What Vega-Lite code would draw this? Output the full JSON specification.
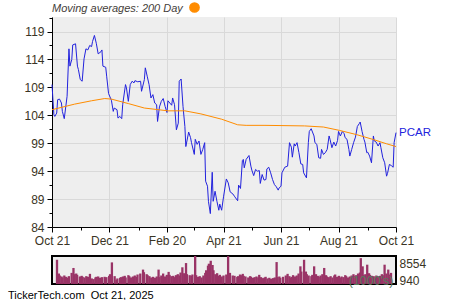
{
"$schema": "https://vega.github.io/schema/vega-lite/v6.json",
"background": "white",
"padding": {"left": 7, "top": 2, "right": 2, "bottom": 0},
"spacing": 9,
"config": {"font": "Liberation Sans", "view": {"stroke": null}},
"datasets": {
"px": [
{"date":"2024-10-21","price":109.5,"vol":7400},{"date":"2024-10-23","price":104.1,"vol":3200},{"date":"2024-10-24","price":103.8,"vol":2600},{"date":"2024-10-26","price":104.4,"vol":2300},{"date":"2024-10-27","price":106.8,"vol":2000},{"date":"2024-10-29","price":106.9,"vol":2600},{"date":"2024-10-31","price":106.2,"vol":2200},{"date":"2024-11-01","price":104.7,"vol":1900},{"date":"2024-11-03","price":103.4,"vol":2400},{"date":"2024-11-06","price":107.4,"vol":3400},
{"date":"2024-11-08","price":115.9,"vol":4900},{"date":"2024-11-09","price":112.8,"vol":3000},{"date":"2024-11-11","price":114.0,"vol":3200},{"date":"2024-11-12","price":116.6,"vol":2800},{"date":"2024-11-15","price":116.8,"vol":2300},{"date":"2024-11-17","price":112.8,"vol":2500},{"date":"2024-11-18","price":112.2,"vol":2200},{"date":"2024-11-20","price":110.4,"vol":2000},{"date":"2024-11-22","price":110.1,"vol":2400},{"date":"2024-11-24","price":114.1,"vol":2200},
{"date":"2024-11-26","price":115.9,"vol":3100},{"date":"2024-11-28","price":115.7,"vol":1700},{"date":"2024-11-30","price":116.5,"vol":1500},{"date":"2024-12-02","price":116.3,"vol":2000},{"date":"2024-12-03","price":117.2,"vol":2200},{"date":"2024-12-05","price":118.3,"vol":2300},{"date":"2024-12-07","price":116.9,"vol":1900},{"date":"2024-12-09","price":115.0,"vol":2100},{"date":"2024-12-12","price":115.4,"vol":2200},{"date":"2024-12-13","price":115.7,"vol":1800},
{"date":"2024-12-14","price":112.8,"vol":2100},{"date":"2024-12-17","price":112.6,"vol":2500},{"date":"2024-12-18","price":111.0,"vol":3000},{"date":"2024-12-20","price":107.9,"vol":6600},{"date":"2024-12-23","price":106.7,"vol":2400},{"date":"2024-12-25","price":104.7,"vol":1300},{"date":"2024-12-26","price":105.3,"vol":1700},{"date":"2024-12-29","price":105.0,"vol":1900},{"date":"2024-12-30","price":103.5,"vol":2100},{"date":"2025-01-01","price":103.8,"vol":2300},
{"date":"2025-01-03","price":103.4,"vol":2500},{"date":"2025-01-04","price":105.9,"vol":2000},{"date":"2025-01-07","price":109.5,"vol":2700},{"date":"2025-01-08","price":108.9,"vol":2400},{"date":"2025-01-10","price":106.5,"vol":2000},{"date":"2025-01-12","price":109.5,"vol":2300},{"date":"2025-01-14","price":110.1,"vol":2600},{"date":"2025-01-16","price":109.8,"vol":2200},{"date":"2025-01-17","price":110.2,"vol":2900},{"date":"2025-01-20","price":110.0,"vol":3200},
{"date":"2025-01-23","price":110.1,"vol":4400},{"date":"2025-01-24","price":108.3,"vol":3600},{"date":"2025-01-27","price":110.4,"vol":3000},{"date":"2025-01-28","price":112.5,"vol":2700},{"date":"2025-01-30","price":111.0,"vol":2400},{"date":"2025-02-01","price":109.5,"vol":2000},{"date":"2025-02-03","price":107.1,"vol":2200},{"date":"2025-02-05","price":107.7,"vol":1900},{"date":"2025-02-07","price":106.2,"vol":2300},{"date":"2025-02-09","price":105.9,"vol":4400},
{"date":"2025-02-10","price":102.9,"vol":2100},{"date":"2025-02-12","price":105.5,"vol":2600},{"date":"2025-02-14","price":106.5,"vol":3200},{"date":"2025-02-16","price":107.0,"vol":2300},{"date":"2025-02-18","price":105.6,"vol":2800},{"date":"2025-02-20","price":104.5,"vol":3700},{"date":"2025-02-21","price":106.6,"vol":2800},{"date":"2025-02-23","price":106.2,"vol":2400},{"date":"2025-02-25","price":105.8,"vol":2500},{"date":"2025-02-26","price":107.1,"vol":2100},
{"date":"2025-02-28","price":105.9,"vol":2700},{"date":"2025-03-02","price":101.4,"vol":3000},{"date":"2025-03-04","price":102.6,"vol":2600},{"date":"2025-03-05","price":110.1,"vol":3500},{"date":"2025-03-07","price":110.5,"vol":5100},{"date":"2025-03-09","price":105.6,"vol":3300},{"date":"2025-03-11","price":102.0,"vol":6400},{"date":"2025-03-12","price":98.4,"vol":3000},{"date":"2025-03-15","price":101.0,"vol":2700},{"date":"2025-03-17","price":100.0,"vol":2500},
{"date":"2025-03-18","price":99.1,"vol":2900},{"date":"2025-03-21","price":97.0,"vol":8554},{"date":"2025-03-22","price":99.7,"vol":2700},{"date":"2025-03-24","price":98.8,"vol":2200},{"date":"2025-03-26","price":99.4,"vol":2400},{"date":"2025-03-28","price":97.0,"vol":2000},{"date":"2025-03-30","price":97.9,"vol":2600},{"date":"2025-04-01","price":99.1,"vol":3400},{"date":"2025-04-02","price":92.2,"vol":4200},{"date":"2025-04-04","price":91.3,"vol":5600},
{"date":"2025-04-05","price":88.6,"vol":6200},{"date":"2025-04-07","price":86.4,"vol":7100},{"date":"2025-04-09","price":93.8,"vol":5800},{"date":"2025-04-10","price":88.6,"vol":4200},{"date":"2025-04-12","price":90.4,"vol":3000},{"date":"2025-04-14","price":88.6,"vol":3300},{"date":"2025-04-16","price":87.0,"vol":2500},{"date":"2025-04-17","price":88.1,"vol":2800},{"date":"2025-04-19","price":87.0,"vol":2300},{"date":"2025-04-21","price":89.4,"vol":2600},
{"date":"2025-04-24","price":92.6,"vol":2900},{"date":"2025-04-26","price":91.9,"vol":8500},{"date":"2025-04-28","price":90.3,"vol":3400},{"date":"2025-05-01","price":89.9,"vol":2600},{"date":"2025-05-03","price":89.4,"vol":2500},{"date":"2025-05-06","price":88.7,"vol":2200},{"date":"2025-05-07","price":91.5,"vol":2400},{"date":"2025-05-09","price":90.9,"vol":2900},{"date":"2025-05-11","price":95.9,"vol":2700},{"date":"2025-05-12","price":96.1,"vol":3100},
{"date":"2025-05-13","price":94.6,"vol":2500},{"date":"2025-05-15","price":96.1,"vol":2300},{"date":"2025-05-18","price":96.8,"vol":2000},{"date":"2025-05-20","price":94.9,"vol":2400},{"date":"2025-05-21","price":94.2,"vol":2200},{"date":"2025-05-23","price":93.2,"vol":1900},{"date":"2025-05-25","price":94.3,"vol":2100},{"date":"2025-05-27","price":94.0,"vol":2300},{"date":"2025-05-29","price":94.1,"vol":2000},{"date":"2025-05-30","price":91.8,"vol":2800},
{"date":"2025-06-01","price":93.4,"vol":2100},{"date":"2025-06-03","price":92.4,"vol":1800},{"date":"2025-06-05","price":92.5,"vol":2000},{"date":"2025-06-06","price":94.4,"vol":2200},{"date":"2025-06-08","price":94.7,"vol":1700},{"date":"2025-06-10","price":93.7,"vol":1900},{"date":"2025-06-12","price":92.5,"vol":1600},{"date":"2025-06-14","price":91.6,"vol":1800},{"date":"2025-06-16","price":91.2,"vol":2000},{"date":"2025-06-18","price":90.6,"vol":6700},
{"date":"2025-06-19","price":91.0,"vol":2100},{"date":"2025-06-21","price":91.3,"vol":2300},{"date":"2025-06-22","price":93.7,"vol":1900},{"date":"2025-06-25","price":94.7,"vol":2200},{"date":"2025-06-28","price":94.9,"vol":2600},{"date":"2025-06-30","price":99.1,"vol":3100},{"date":"2025-07-02","price":98.3,"vol":2400},{"date":"2025-07-03","price":96.5,"vol":2000},{"date":"2025-07-05","price":98.9,"vol":2200},{"date":"2025-07-06","price":98.5,"vol":2700},
{"date":"2025-07-08","price":99.1,"vol":2300},{"date":"2025-07-10","price":97.3,"vol":2600},{"date":"2025-07-12","price":95.3,"vol":3200},{"date":"2025-07-14","price":95.2,"vol":5400},{"date":"2025-07-15","price":93.7,"vol":3800},{"date":"2025-07-18","price":92.8,"vol":7400},{"date":"2025-07-20","price":99.1,"vol":3800},{"date":"2025-07-21","price":101.1,"vol":3000},{"date":"2025-07-23","price":101.6,"vol":2600},{"date":"2025-07-26","price":100.3,"vol":2400},
{"date":"2025-07-27","price":99.1,"vol":2800},{"date":"2025-07-29","price":98.8,"vol":5400},{"date":"2025-07-31","price":96.4,"vol":3000},{"date":"2025-08-02","price":96.3,"vol":2500},{"date":"2025-08-03","price":97.9,"vol":2200},{"date":"2025-08-05","price":97.0,"vol":2600},{"date":"2025-08-07","price":97.3,"vol":3000},{"date":"2025-08-09","price":97.9,"vol":4900},{"date":"2025-08-11","price":100.3,"vol":2700},{"date":"2025-08-12","price":99.7,"vol":2300},
{"date":"2025-08-14","price":98.2,"vol":2100},{"date":"2025-08-16","price":99.2,"vol":2400},{"date":"2025-08-18","price":98.5,"vol":2000},{"date":"2025-08-20","price":99.5,"vol":2600},{"date":"2025-08-21","price":101.1,"vol":2900},{"date":"2025-08-23","price":100.3,"vol":2200},{"date":"2025-08-25","price":101.1,"vol":2500},{"date":"2025-08-27","price":100.7,"vol":2000},{"date":"2025-08-28","price":100.0,"vol":2300},{"date":"2025-08-30","price":99.7,"vol":2100},
{"date":"2025-09-01","price":97.9,"vol":2700},{"date":"2025-09-02","price":96.7,"vol":2400},{"date":"2025-09-04","price":97.9,"vol":2000},{"date":"2025-09-06","price":99.1,"vol":2300},{"date":"2025-09-08","price":100.1,"vol":2600},{"date":"2025-09-10","price":102.0,"vol":3000},{"date":"2025-09-12","price":102.5,"vol":2500},{"date":"2025-09-13","price":102.8,"vol":2700},{"date":"2025-09-15","price":101.1,"vol":3200},{"date":"2025-09-17","price":99.7,"vol":3500},
{"date":"2025-09-18","price":99.2,"vol":7900},{"date":"2025-09-20","price":97.3,"vol":5400},{"date":"2025-09-21","price":97.4,"vol":2800},{"date":"2025-09-23","price":96.7,"vol":3000},{"date":"2025-09-25","price":95.5,"vol":5900},{"date":"2025-09-27","price":100.3,"vol":3300},{"date":"2025-09-28","price":99.4,"vol":2800},{"date":"2025-09-30","price":99.2,"vol":2500},{"date":"2025-10-02","price":98.5,"vol":2400},{"date":"2025-10-04","price":99.1,"vol":2200},
{"date":"2025-10-05","price":98.2,"vol":2600},{"date":"2025-10-07","price":96.4,"vol":2300},{"date":"2025-10-09","price":95.5,"vol":2500},{"date":"2025-10-11","price":93.1,"vol":3000},{"date":"2025-10-12","price":93.6,"vol":2700},{"date":"2025-10-14","price":95.2,"vol":5900},{"date":"2025-10-16","price":95.0,"vol":3200},{"date":"2025-10-18","price":94.7,"vol":4400},{"date":"2025-10-19","price":99.1,"vol":2900},{"date":"2025-10-21","price":100.9,"vol":3400}
],
"ma": [
{"date":"2024-10-21","ma":105.0},{"date":"2024-11-14","ma":106.0},{"date":"2024-12-02","ma":106.6},{"date":"2024-12-16","ma":107.0},{"date":"2024-12-23","ma":106.9},{"date":"2025-01-10","ma":106.1},{"date":"2025-01-27","ma":105.3},{"date":"2025-02-21","ma":104.8},{"date":"2025-03-11","ma":104.8},{"date":"2025-03-28","ma":104.25},{"date":"2025-04-19","ma":103.3},{"date":"2025-05-06","ma":102.3},{"date":"2025-05-15","ma":102.2},{"date":"2025-06-04","ma":102.2},{"date":"2025-07-16","ma":102.1},{"date":"2025-08-05","ma":101.9},{"date":"2025-08-22","ma":101.3},{"date":"2025-09-09","ma":100.55},{"date":"2025-09-27","ma":99.66},{"date":"2025-10-11","ma":98.9},{"date":"2025-10-21","ma":98.4}
],
"lbl": [{"date":"2025-10-21","price":100.9,"label":"PCAR"}]
},
"vconcat": [
{
"width": 344, "height": 210,
"view": {"fill": "#eeeeee", "stroke": null},
"layer": [
{
"data": {"name": "px"},
"mark": {"type": "line", "color": "#2222dd", "strokeWidth": 1},
"encoding": {
"x": {"field": "date", "type": "temporal",
 "scale": {"domain": [{"year":2024,"month":10,"date":21,"utc":true},{"year":2025,"month":10,"date":21,"utc":true}]},
 "axis": {"title": null, "tickCount": 100,
  "values": [{"year":2024,"month":10,"date":21,"utc":true},{"year":2024,"month":11,"date":21,"utc":true},{"year":2024,"month":12,"date":21,"utc":true},{"year":2025,"month":1,"date":21,"utc":true},{"year":2025,"month":2,"date":20,"utc":true},{"year":2025,"month":3,"date":21,"utc":true},{"year":2025,"month":4,"date":21,"utc":true},{"year":2025,"month":5,"date":21,"utc":true},{"year":2025,"month":6,"date":21,"utc":true},{"year":2025,"month":7,"date":21,"utc":true},{"year":2025,"month":8,"date":21,"utc":true},{"year":2025,"month":9,"date":21,"utc":true},{"year":2025,"month":10,"date":21,"utc":true}],
  "labelExpr": "utcmonth(datum.value) % 2 == 1 ? utcFormat(datum.value, '%b %d') : ''",
  "tickSize": {"condition": {"test": "utcmonth(datum.value) % 2 == 1", "value": 5}, "value": 3},
  "grid": true, "gridColor": "#d9d9d9",
  "gridOpacity": {"condition": {"test": "utcmonth(datum.value) % 2 == 1", "value": 1}, "value": 0},
  "domainColor": "black", "tickColor": "black", "labelFontSize": 12, "labelColor": "#3a3424",
  "labelPadding": 3, "labelFlush": false, "labelOverlap": false, "labelFont": "Liberation Sans"}},
"y": {"field": "price", "type": "quantitative",
 "scale": {"domain": [84, 121.6], "nice": false, "zero": false},
 "axis": {"title": null, "tickCount": 100,
  "values": [84,86.5,89,91.5,94,96.5,99,101.5,104,106.5,109,111.5,114,116.5,119,121.5],
  "labelExpr": "datum.value % 5 == 4 ? format(datum.value, 'd') : ''",
  "tickSize": {"condition": {"test": "datum.value % 5 == 4", "value": 5}, "value": 3},
  "grid": true, "gridColor": "#d9d9d9",
  "gridOpacity": {"condition": {"test": "datum.value % 5 == 4", "value": 1}, "value": 0},
  "domainColor": "black", "tickColor": "black", "labelFontSize": 12, "labelColor": "#3a3424",
  "labelPadding": 3, "labelOverlap": false, "labelFont": "Liberation Sans"}}
}
},
{
"data": {"name": "ma"},
"mark": {"type": "line", "strokeWidth": 1},
"encoding": {
"x": {"field": "date", "type": "temporal"},
"y": {"field": "ma", "type": "quantitative"},
"color": {"datum": "200 Day", "scale": {"range": ["#ff8c00"]},
 "legend": {"orient": "none", "legendX": 0, "legendY": -15, "direction": "horizontal",
  "title": "Moving averages: 200 Day", "titleOrient": "left", "titleAngle": 0, "titleBaseline": "middle",
  "titleFontStyle": "italic", "titleFontWeight": "normal", "titleFontSize": 11, "titleColor": "#44403a", "titleFont": "Liberation Sans",
  "titlePadding": 6, "symbolType": "circle", "symbolSize": 85, "labelExpr": "''",
  "encode": {"symbols": {"update": {"fill": {"value": "#ff8c00"}, "stroke": {"value": "#ff8c00"}, "opacity": {"value": 1}}}}}}
}
},
{
"data": {"name": "lbl"},
"mark": {"type": "text", "align": "left", "baseline": "middle", "dx": 3, "color": "#2222dd", "fontSize": 11.5, "font": "Liberation Sans"},
"encoding": {
"x": {"field": "date", "type": "temporal"},
"y": {"field": "price", "type": "quantitative"},
"text": {"field": "label"}
}
}
]
},
{
"width": 344, "height": 28,
"view": {"fill": "#eeeeee", "stroke": "black", "strokeWidth": 2},
"data": {"name": "px"},
"mark": {"type": "bar", "color": "#993366", "width": 2.3, "clip": true},
"encoding": {
"x": {"field": "date", "type": "temporal",
 "scale": {"domain": [{"year":2024,"month":10,"date":21,"utc":true},{"year":2025,"month":10,"date":21,"utc":true}]},
 "axis": null},
"y": {"field": "vol", "type": "quantitative",
 "scale": {"domain": [0, 8554], "nice": false},
 "axis": {"orient": "right", "values": [940, 8554], "tickCount": 100, "format": "d", "ticks": false, "domain": false, "grid": false, "zindex": 2,
  "labelFontSize": 12, "labelColor": "#3a3424", "labelPadding": 3, "labelFont": "Liberation Sans",
  "labelBaseline": {"condition": {"test": "datum.value > 5000", "value": "top"}, "value": "middle"},
  "labelOffset": {"condition": {"test": "datum.value > 5000", "value": 2}, "value": 0},
  "title": "(1000's)", "titleAngle": 0, "titleX": -3, "titleY": 24, "titleAlign": "right", "titleBaseline": "middle",
  "titleFontSize": 12.5, "titleFontWeight": "normal", "titleColor": "#567a5e", "titleFont": "Liberation Sans"}}
},
"title": {"text": "TickerTech.com\u00a0\u00a0Oct 21, 2025", "orient": "bottom", "anchor": "start", "frame": "group",
 "dx": -44, "offset": 3, "fontSize": 11, "font": "Liberation Sans", "fontWeight": "normal", "color": "black"}
}
]
}
